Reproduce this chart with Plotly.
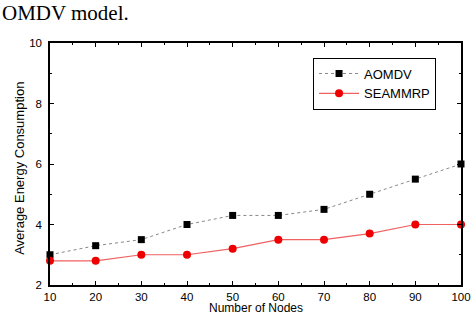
import plotly.graph_objects as go

nodes = [10, 20, 30, 40, 50, 60, 70, 80, 90, 100]
aomdv = [3.0, 3.3, 3.5, 4.0, 4.3, 4.3, 4.5, 5.0, 5.5, 6.0]
seammrp = [2.8, 2.8, 3.0, 3.0, 3.2, 3.5, 3.5, 3.7, 4.0, 4.0]

fig = go.Figure()
fig.add_trace(go.Scatter(x=nodes, y=aomdv, name="AOMDV", mode="lines+markers",
                         line=dict(color="#888888", width=1, dash="dot"),
                         marker=dict(symbol="square", size=7, color="black"),
                         cliponaxis=False))
fig.add_trace(go.Scatter(x=nodes, y=seammrp, name="SEAMMRP", mode="lines+markers",
                         line=dict(color="#f06060", width=1.2),
                         marker=dict(symbol="circle", size=8, color="#ee0000"),
                         cliponaxis=False))

tfont = dict(family="Liberation Sans, Arial", size=11.5, color="black")
axis_common = dict(showline=True, linecolor="black", linewidth=1.5, mirror="ticks",
                   ticks="inside", ticklen=4, tickcolor="black", showgrid=False, zeroline=False,
                   tickfont=tfont, automargin=False)
fig.update_xaxes(range=[10, 100], tickvals=[10, 20, 30, 40, 50, 60, 70, 80, 90, 100],
                 minor=dict(ticks="inside", ticklen=2, dtick=5, tick0=10, tickcolor="black"),
                 ticklabelstandoff=0, **axis_common)
fig.update_yaxes(range=[2, 10], tickvals=[2, 4, 6, 8, 10],
                 minor=dict(ticks="inside", ticklen=2, dtick=1, tick0=2, tickcolor="black"),
                 ticklabelstandoff=4, **axis_common)

B = 31
PW, PH = 411, 316 - 43 - B
fig.add_annotation(text="Number of Nodes", xref="paper", yref="paper", x=0.5, y=-B/PH,
                   xanchor="center", yanchor="bottom", showarrow=False, borderpad=0,
                   font=dict(family="Liberation Sans, Arial", size=12, color="black"))
fig.add_annotation(text="Average Energy Consumption", xref="paper", yref="paper", x=-30/PW, y=0.48,
                   xanchor="center", yanchor="middle", showarrow=False, textangle=-90,
                   font=dict(family="Liberation Sans, Arial", size=13, color="black"))
fig.add_annotation(text="OMDV model.", xref="paper", yref="paper", x=-50/PW, y=1 + 30/PH,
                   xanchor="left", yanchor="middle", showarrow=False,
                   font=dict(family="Liberation Serif, Times New Roman", size=21, color="black"))

fig.update_layout(
    width=474, height=316,
    margin=dict(l=50, r=13, t=43, b=B),
    paper_bgcolor="white", plot_bgcolor="white",
    legend=dict(x=0.64, y=0.94, xanchor="left", yanchor="top",
                bordercolor="black", borderwidth=1, bgcolor="white",
                font=dict(family="Liberation Sans, Arial", size=13, color="black"),
                tracegroupgap=0, itemwidth=40),
    showlegend=True,
)

fig.write_html("out.html")
